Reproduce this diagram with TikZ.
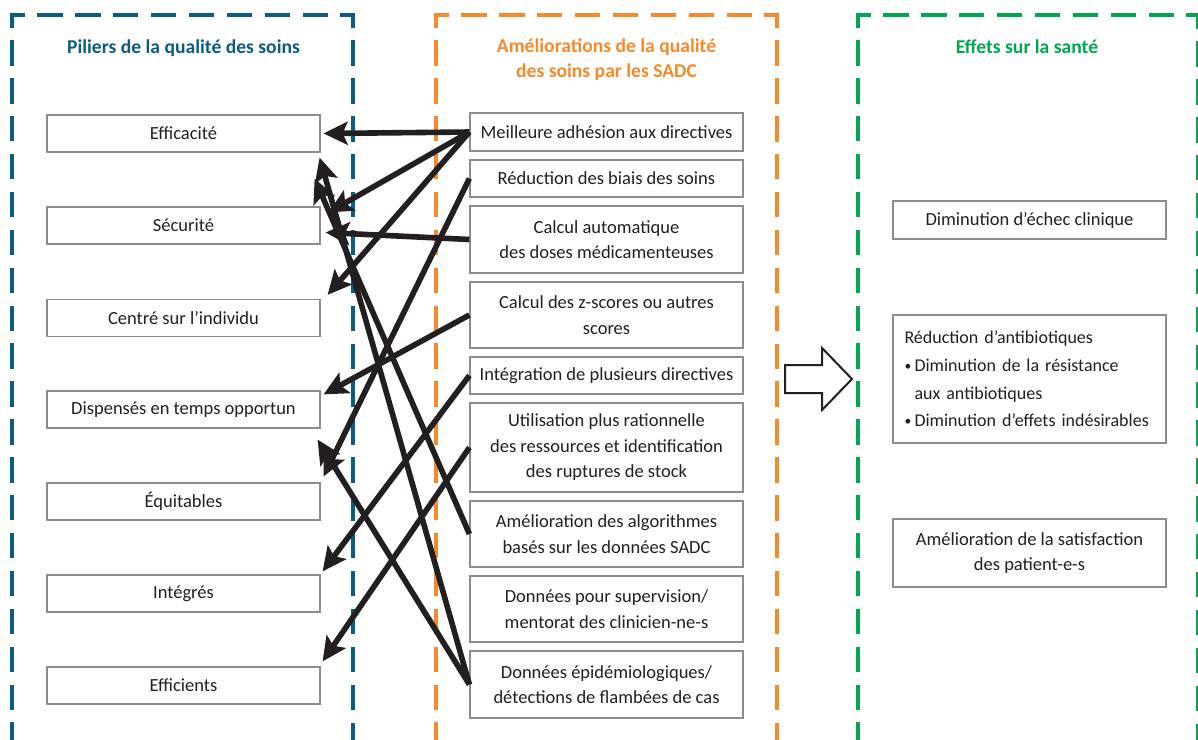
\documentclass[tikz,border=0pt]{standalone}
\usepackage{fontspec}
\setmainfont{Carlito}
\usetikzlibrary{arrows.meta,calc}
\definecolor{cblue}{HTML}{0B5C7E}
\definecolor{corange}{HTML}{F6892A}
\definecolor{cgreen}{HTML}{00A650}
\definecolor{ctext}{HTML}{231F20}
\definecolor{cbox}{HTML}{8C8C8C}
\begin{document}
\begin{tikzpicture}[x=0.5pt,y=-0.5pt,
  frame/.style={line width=2pt, dash pattern=on 12.7pt off 6.25pt, dash phase=12.85pt, line cap=butt, line join=miter},
  box/.style={draw=cbox, line width=0.6pt, fill=white, minimum width=136.5pt, text=ctext,
    font=\fontsize{9.25}{12.75}\selectfont, align=center, inner sep=0pt},
  head/.style={font=\fontsize{9.8}{12.5}\selectfont\bfseries, align=center, inner sep=0pt},
  conn/.style={draw=ctext, line width=2.8pt, -{Stealth[length=12pt,width=11.5pt,inset=2.5pt]}},
  bigarrow/.style={draw=ctext, line width=1pt, fill=white, line join=miter}
]
\useasboundingbox (0,0) rectangle (1198,739);
\clip (0,0) rectangle (1198,739);

% frames
\draw[frame, cblue] (12,760) -- (12,15) -- (353,15) -- (353,760);
\draw[frame, corange] (436,760) -- (436,15) -- (777,15) -- (777,760);
\draw[frame, cgreen] (858,760) -- (858,15) -- (1198,15) -- (1198,760);

% headings
\node[head, text=cblue, anchor=base] (h1) at (183.5,53) {Piliers de la qualité des soins};
\node[head, text=corange] (h2) at (606.5,60) {Améliorations de la qualité\\des soins par les SADC};
\node[head, text=cgreen, anchor=base] (h3) at (1027,53) {Effets sur la santé};

% left column
\node[box, minimum height=18.5pt] (eff) at (183.5,133.5) {Efficacité};
\node[box, minimum height=18.5pt] (sec) at (183.5,225.5) {Sécurité};
\node[box, minimum height=18.5pt] (cen) at (183.5,318) {Centré sur l’individu};
\node[box, minimum height=18.5pt] (dis) at (183.5,409.5) {Dispensés en temps opportun};
\node[box, minimum height=18.5pt] (equ) at (183.5,501.5) {Équitables};
\node[box, minimum height=18.5pt] (int) at (183.5,593.5) {Intégrés};
\node[box, minimum height=18.5pt] (effi) at (183.5,685.5) {Efficients};

% middle column
\node[box, minimum height=19pt] (m1) at (606.5,132) {Meilleure adhésion aux directives};
\node[box, minimum height=18.5pt] (m2) at (606.5,178.5) {Réduction des biais des soins};
\node[box, minimum height=33.5pt] (m3) at (606.5,239.5) {Calcul automatique\\des doses médicamenteuses};
\node[box, minimum height=33pt] (m4) at (606.5,315) {Calcul des z-scores ou autres\\scores};
\node[box, minimum height=18.5pt] (m5) at (606.5,375.5) {Intégration de plusieurs directives};
\node[box, minimum height=44.5pt] (m6) at (606.5,447.5) {Utilisation plus rationnelle\\des ressources et identification\\des ruptures de stock};
\node[box, minimum height=33pt] (m7) at (606.5,534) {Amélioration des algorithmes\\basés sur les données SADC};
\node[box, minimum height=33pt] (m8) at (606.5,609) {Données pour supervision/\\mentorat des clinicien-ne-s};
\node[box, minimum height=33.5pt] (m9) at (606.5,684.5) {Données épidémiologiques/\\détections de flambées de cas};

% right column
\node[box, minimum height=19pt] (r1) at (1029.5,220) {Diminution d’échec clinique};
\node[box, minimum height=64pt, text width=125pt, inner xsep=5.75pt, align=left,
  font=\fontsize{9}{13.8}\selectfont] (r2) at (1029.5,379)
  {Réduction d’antibiotiques\\
   \makebox[5pt][l]{\raisebox{0.6pt}{\scalebox{0.75}{\textbullet}}}Diminution de la résistance\\
   \hspace*{5pt}aux antibiotiques\\
   \makebox[5pt][l]{\raisebox{0.6pt}{\scalebox{0.75}{\textbullet}}}Diminution d’effets indésirables};
\node[box, minimum height=34pt] (r3) at (1029.5,553) {Amélioration de la satisfaction\\des patient-e-s};

% big hollow arrow
\draw[bigarrow] (785,365) -- (822,365) -- (822,348) -- (852,379) -- (822,410) -- (822,393) -- (785,393) -- cycle;

% connectors
\draw[conn] (m1.west) -- ($(eff.east)+(3,0)$);
\draw[conn] (m1.west) -- ($(sec.north east)+(8,6)$);
\draw[conn] (m1.west) -- ($(cen.north east)+(7,-4)$);
\draw[conn] (m2.west) -- ($(equ.north east)+(3,-6)$);
\draw[conn] (m3.west) -- ($(sec.east)+(5,7)$);
\draw[conn] (m4.west) -- ($(dis.north east)+(3,4)$);
\draw[conn] (m5.west) -- ($(int.north east)+(2,-3)$);
\draw[conn] (m6.west) -- ($(effi.north east)+(2,-5)$);
\draw[conn] (m9.west) -- ($(eff.south east)+(-1,5)$);
\draw[conn] (m7.west) -- ($(eff.south east)+(-6,26)$);
\draw[conn] (m9.west) -- ($(dis.south east)+(-3,11)$);
\end{tikzpicture}
\end{document}
